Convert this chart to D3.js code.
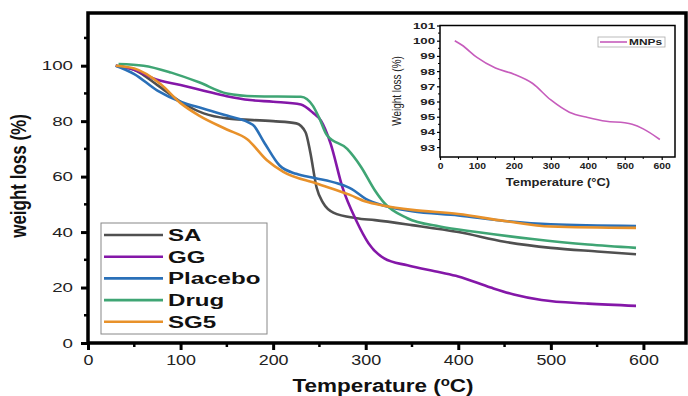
<html>
<head>
<script src="https://d3js.org/d3.v7.min.js"></script>
<style>
  body { margin: 0; background: #fff; }
  svg { font-family: "Liberation Sans", Arial, sans-serif; }
</style>
</head>
<body>
<script>
// data (temperature °C, weight %)
var saData = [[30,100],[50,98.5],[75,93],[100,87],[125,82.8],[150,81],[200,80],[225,79.2],[235,76],[240,69],[247,56],[254,50.5],[265,47],[290,45],[310,44.3],[350,42.5],[400,40],[450,36.5],[500,34.3],[550,33],[592,32]];
var ggData = [[30,100],[50,98.5],[70,95.5],[100,93],[125,91],[150,89],[175,87.6],[200,87],[230,86],[243,83],[252,80],[262,72],[275,56],[290,44],[303,36],[320,30.5],[345,28],[380,25.5],[400,24],[435,20],[460,17.5],[490,15.5],[540,14.2],[592,13.4]];
var placeboData = [[30,100],[50,97],[75,91],[100,87],[125,84.5],[150,82],[178,78.7],[190,72.5],[207,64],[225,61],[245,59.5],[270,57.5],[285,55.5],[300,52],[320,49.5],[350,47.5],[400,46],[450,44],[500,42.8],[592,42.2]];
var drugData = [[33,100.6],[60,100],[90,97.5],[120,94],[150,90],[180,89],[230,88.8],[243,85.5],[250,81],[258,75],[280,70],[295,63.5],[310,55],[320,50.5],[345,45],[380,42],[420,40],[480,37.5],[540,35.5],[592,34.3]];
var sg5Data = [[30,100],[50,99],[78,93.5],[100,86.5],[120,82],[150,77],[172,73.5],[193,66],[211,61.7],[247,57.5],[283,53.4],[300,51],[320,49.5],[350,48],[400,46.5],[450,44],[500,42],[592,41.5]];
var mnpData = [[40,100],[60,99.7],[100,98.9],[150,98.2],[200,97.8],[250,97.2],[300,96.1],[350,95.3],[400,94.95],[450,94.7],[500,94.6],[520,94.5],[550,94.2],[595,93.5]];

var seriesNames = ["SA", "GG", "Placebo", "Drug", "SG5"];
var seriesData = [saData, ggData, placeboData, drugData, sg5Data];
var seriesColors = ["#505050", "#8417a8", "#2a70b8", "#3fa574", "#e8912a"];

var xTicks = [0, 100, 200, 300, 400, 500, 600];
var yTicks = [0, 20, 40, 60, 80, 100];
var insetXTicks = [0, 100, 200, 300, 400, 500, 600];
var insetYTicks = [93, 94, 95, 96, 97, 98, 99, 100, 101];

var width = 688, height = 396;
var svg = d3.select("body").append("svg").attr("width", width).attr("height", height);

// the source image is stretched sideways, so the text is too
function stretched(parent, px, py, sx, sy) {
  return parent.append("text")
    .attr("transform", "translate(" + px + "," + py + ") scale(" + sx + "," + (sy || 1) + ")");
}

// main chart
var x = d3.scaleLinear().domain([0, 646]).range([88, 686]);
var y = d3.scaleLinear().domain([0, 119]).range([343, 13]);

var line = d3.line()
    .x(function(d) { return x(d[0]); })
    .y(function(d) { return y(d[1]); })
    .curve(d3.curveMonotoneX);

// minor ticks
svg.append("g").selectAll("line")
  .data(d3.range(50, 650, 100))
  .enter().append("line")
  .attr("x1", function(d) { return x(d); }).attr("x2", function(d) { return x(d); })
  .attr("y1", 343).attr("y2", 347)
  .attr("stroke", "#000").attr("stroke-width", 2.5);
svg.append("g").selectAll("line")
  .data(d3.range(10, 120, 20))
  .enter().append("line")
  .attr("y1", function(d) { return y(d); }).attr("y2", function(d) { return y(d); })
  .attr("x1", 84).attr("x2", 88)
  .attr("stroke", "#000").attr("stroke-width", 2.5);

var xAxis = svg.append("g").attr("transform", "translate(0,343)")
  .call(d3.axisBottom(x).tickValues(xTicks).tickSize(7).tickPadding(5));
var yAxis = svg.append("g").attr("transform", "translate(88,0)")
  .call(d3.axisLeft(y).tickValues(yTicks).tickSize(7).tickPadding(3));
[xAxis, yAxis].forEach(function(a) {
  a.select(".domain").remove();
  a.selectAll(".tick line").attr("stroke", "#000").attr("stroke-width", 3);
  a.selectAll(".tick text").attr("fill", "#222")
    .attr("font-family", "Liberation Sans, Arial, sans-serif");
});
xAxis.selectAll(".tick text").attr("font-size", 14).attr("transform", "scale(1.28,1)");
yAxis.selectAll(".tick text").attr("font-size", 12.5).attr("transform", "scale(1.5,1)");

seriesData.forEach(function(data, i) {
  svg.append("path").datum(data)
    .attr("fill", "none")
    .attr("stroke", seriesColors[i])
    .attr("stroke-width", 2.6)
    .attr("d", line);
});

svg.append("rect")
  .attr("x", 88).attr("y", 13).attr("width", 598).attr("height", 330)
  .attr("fill", "none").attr("stroke", "#000").attr("stroke-width", 3.5);

// axis titles
svg.append("text")
  .attr("transform", "translate(26,176) rotate(-90) scale(1,1.3)")
  .attr("text-anchor", "middle")
  .attr("font-size", 17).attr("font-weight", "bold").attr("fill", "#111")
  .text("weight loss (%)");
var xt = stretched(svg, 383, 392, 1.25)
  .attr("text-anchor", "middle")
  .attr("font-size", 18).attr("font-weight", "bold").attr("fill", "#111");
xt.append("tspan").text("Temperature (");
xt.append("tspan").attr("font-size", 12).attr("dy", -6).text("o");
xt.append("tspan").attr("dy", 6).text("C)");

// legend
var legend = svg.append("g");
legend.append("rect")
  .attr("x", 101).attr("y", 223).attr("width", 166).attr("height", 111)
  .attr("fill", "#fff").attr("stroke", "#888").attr("stroke-width", 1);
seriesNames.forEach(function(name, i) {
  var ly = 235 + i * 21.7;
  legend.append("line")
    .attr("x1", 104).attr("x2", 163).attr("y1", ly).attr("y2", ly)
    .attr("stroke", seriesColors[i]).attr("stroke-width", 2.6);
  stretched(legend, 168, ly + 6, 1.42)
    .attr("font-size", 17).attr("font-weight", "bold").attr("fill", "#111")
    .text(name);
});

// inset
var ix = d3.scaleLinear().domain([0, 636]).range([440, 675]);
var iy = d3.scaleLinear().domain([92.35, 101]).range([157, 25.5]);

svg.append("g").selectAll("line")
  .data(d3.range(50, 650, 100))
  .enter().append("line")
  .attr("x1", function(d) { return ix(d); }).attr("x2", function(d) { return ix(d); })
  .attr("y1", 157).attr("y2", 159)
  .attr("stroke", "#000").attr("stroke-width", 1);
svg.append("g").selectAll("line")
  .data(d3.range(93.5, 101, 1))
  .enter().append("line")
  .attr("y1", function(d) { return iy(d); }).attr("y2", function(d) { return iy(d); })
  .attr("x1", 438).attr("x2", 440)
  .attr("stroke", "#000").attr("stroke-width", 1);

var ixAxis = svg.append("g").attr("transform", "translate(0,157)")
  .call(d3.axisBottom(ix).tickValues(insetXTicks).tickSize(3).tickPadding(3));
var iyAxis = svg.append("g").attr("transform", "translate(440,0)")
  .call(d3.axisLeft(iy).tickValues(insetYTicks).tickSize(3).tickPadding(0.5));
[ixAxis, iyAxis].forEach(function(a) {
  a.select(".domain").remove();
  a.selectAll(".tick line").attr("stroke", "#000").attr("stroke-width", 1.2);
  a.selectAll(".tick text").attr("font-weight", "bold").attr("fill", "#222")
    .attr("font-family", "Liberation Sans, Arial, sans-serif");
});
ixAxis.selectAll(".tick text").attr("font-size", 9).attr("transform", "scale(1.15,1)");
iyAxis.selectAll(".tick text").attr("font-size", 9.5).attr("transform", "scale(1.4,1)");

var iline = d3.line()
  .x(function(d) { return ix(d[0]); })
  .y(function(d) { return iy(d[1]); })
  .curve(d3.curveMonotoneX);
svg.append("path").datum(mnpData)
  .attr("fill", "none").attr("stroke", "#c65cbc").attr("stroke-width", 1.6)
  .attr("d", iline);

svg.append("rect")
  .attr("x", 440).attr("y", 25.5).attr("width", 235).attr("height", 131.5)
  .attr("fill", "none").attr("stroke", "#000").attr("stroke-width", 1.5);

svg.append("rect")
  .attr("x", 598).attr("y", 37).attr("width", 67).attr("height", 10)
  .attr("fill", "#fff").attr("stroke", "#aaa").attr("stroke-width", 0.8);
svg.append("line")
  .attr("x1", 600).attr("x2", 627).attr("y1", 42).attr("y2", 42)
  .attr("stroke", "#c65cbc").attr("stroke-width", 1.6);
stretched(svg, 629, 45.2, 1.4)
  .attr("font-size", 8.5).attr("font-weight", "bold").attr("fill", "#222")
  .text("MNPs");

svg.append("text")
  .attr("transform", "translate(401,91) rotate(-90) scale(1,1.3)")
  .attr("text-anchor", "middle")
  .attr("font-size", 10).attr("fill", "#222")
  .attr("font-family", "Liberation Sans Narrow, Arial Narrow, sans-serif")
  .text("Weight loss (%)");
stretched(svg, 558, 186, 1.18)
  .attr("text-anchor", "middle")
  .attr("font-size", 11).attr("font-weight", "bold").attr("fill", "#222")
  .text("Temperature (°C)");
</script>
</body>
</html>
